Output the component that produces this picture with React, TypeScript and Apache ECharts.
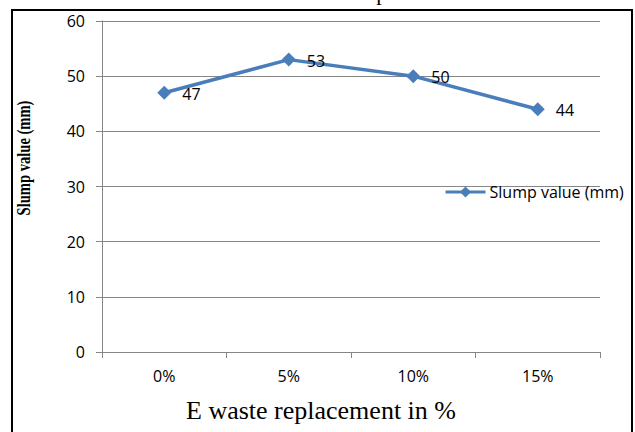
import React, { useEffect, useRef } from "react";
import * as echarts from "echarts";

const categories = ["0%", "5%", "10%", "15%"];
const slumpValues = [47, 53, 50, 44];
const seriesName = "Slump value (mm)";
const yAxisTitle = "Slump value (mm)";
const xAxisTitle = "E waste replacement in %";
const chartTitle = "Variation of Slump value";

export default function App() {
  const ref = useRef<HTMLDivElement>(null);
  useEffect(() => {
    if (!ref.current) return;
    const chart = echarts.init(ref.current, null, { renderer: "svg" });
    const labelFont = "Open Sans";
    chart.setOption({
      animation: false,
      backgroundColor: "#ffffff",
      grid: { left: 102, right: 35, top: 21, bottom: 80, containLabel: false },
      legend: {
        data: [seriesName],
        left: 444,
        top: 184,
        padding: 0,
        itemWidth: 40,
        itemHeight: 14,
        itemGap: 2,
        lineStyle: { width: 3 },
        textStyle: { fontFamily: labelFont, fontSize: 16, color: "#000", padding: [0, 0, 0, -1] },
      },
      xAxis: {
        type: "category",
        data: categories,
        boundaryGap: true,
        axisLine: { show: true, lineStyle: { color: "#868686", width: 1 } },
        axisTick: { show: true, inside: false, length: 6, lineStyle: { color: "#868686" } },
        axisLabel: { fontFamily: labelFont, fontSize: 16, color: "#000", margin: 16 },
        splitLine: { show: false },
      },
      yAxis: {
        type: "value",
        min: 0,
        max: 60,
        interval: 10,
        axisLine: { show: true, lineStyle: { color: "#868686", width: 1 } },
        axisTick: { show: true, inside: false, length: 6, lineStyle: { color: "#868686" } },
        axisLabel: { fontFamily: labelFont, fontSize: 16, color: "#000", margin: 17 },
        splitLine: { show: true, lineStyle: { color: "#868686", width: 1 } },
      },
      series: [
        {
          name: seriesName,
          type: "line",
          data: slumpValues,
          symbol: "diamond",
          symbolSize: 14,
          lineStyle: { color: "#4A7EBB", width: 3.5 },
          itemStyle: { color: "#4A7EBB" },
          label: {
            show: true,
            position: "right",
            distance: 11,
            offset: [0, 1],
            fontFamily: labelFont,
            fontSize: 16,
            color: "#000",
          },
        },
      ],
      graphic: [
        {
          type: "rect",
          shape: { x: 12, y: 10, width: 620, height: 440 },
          style: { fill: "none", stroke: "#000", lineWidth: 2 },
          silent: true,
          z: 100,
        },
        {
          type: "text",
          x: 330,
          y: -8,
          style: {
            text: chartTitle,
            fontFamily: "Liberation Serif",
            fontSize: 22,
            fill: "#000",
            textAlign: "center",
            textVerticalAlign: "middle",
          },
        },
        {
          type: "text",
          x: 321,
          y: 410,
          style: {
            text: xAxisTitle,
            fontFamily: "Liberation Serif",
            fontSize: 26,
            fill: "#000",
            textAlign: "center",
            textVerticalAlign: "middle",
          },
        },
        {
          type: "text",
          x: 24,
          y: 158,
          rotation: Math.PI / 2,
          scaleX: 0.81,
          scaleY: 1.05,
          style: {
            text: yAxisTitle,
            fontFamily: "Liberation Serif",
            fontWeight: "bold",
            fontSize: 18,
            fill: "#000",
            textAlign: "center",
            textVerticalAlign: "middle",
          },
        },
      ],
    });
    return () => chart.dispose();
  }, []);
  return (
    <div
      ref={ref}
      style={{ position: "absolute", left: 0, top: 0, width: 635, height: 432 }}
    />
  );
}
